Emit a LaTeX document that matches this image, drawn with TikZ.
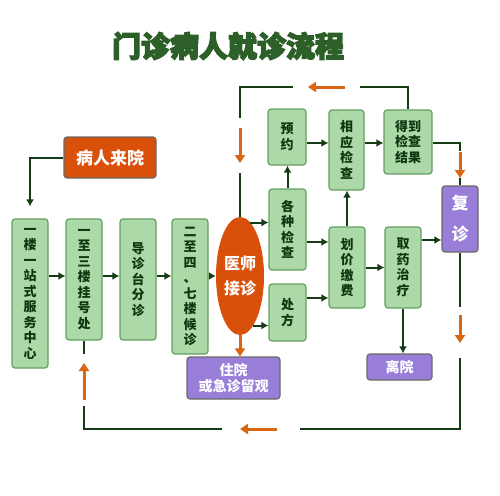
\documentclass[tikz,border=0pt]{standalone}
\usepackage{fontspec}
\newfontfamily\cjk{Noto Sans CJK SC}
\usetikzlibrary{arrows.meta,shapes.geometric}
\definecolor{gfill}{RGB}{172,217,168}
\definecolor{gdraw}{RGB}{100,160,100}
\definecolor{gtext}{RGB}{15,55,15}
\definecolor{ofill}{RGB}{217,80,10}
\definecolor{pfill}{RGB}{152,126,216}
\definecolor{bdraw}{RGB}{105,105,105}
\definecolor{lcol}{RGB}{22,60,22}
\definecolor{acol}{RGB}{216,102,18}
\definecolor{tcol}{RGB}{45,95,40}
\newcommand{\fakebold}[1]{\special{pdf:literal direct 2 Tr 1.2 w}#1\special{pdf:literal direct 0 Tr}}
\tikzset{
  gbox/.style={draw=gdraw, fill=gfill, line width=1.2pt, rounded corners=3pt, text=gtext,
    font=\cjk\bfseries\fontsize{13}{15.5}\selectfont, align=center, inner sep=0pt},
  obox/.style={draw=bdraw, fill=ofill, line width=1.2pt, rounded corners=3pt, text=white,
    font=\cjk\bfseries\fontsize{17}{20}\selectfont, align=center, inner sep=0pt},
  pbox/.style={draw=bdraw, fill=pfill, line width=1.2pt, rounded corners=3pt, text=white,
    font=\cjk\bfseries\fontsize{14}{16}\selectfont, align=center, inner sep=0pt},
  arr/.style={draw=lcol, line width=2pt, -{Latex[length=7pt,width=8pt]}},
  loopline/.style={draw=lcol, line width=2.2pt},
  oarr/.style={draw=acol, line width=3pt, -{Triangle[length=8pt,width=10pt]}},
  ttl/.style={font=\cjk\bfseries\fontsize{29}{32}\selectfont}
}
\begin{document}
\begin{tikzpicture}[x=1pt,y=-1pt]
\useasboundingbox (0,0) rectangle (500,495);
% title
\node[ttl, text=tcol] (title) at (228,46) {\fakebold{门诊病人就诊流程}};

% nodes
\node[obox, minimum width=92pt, minimum height=41pt] (laiyuan) at (110,157.5) {病人来院};
\node[gbox, minimum width=36pt, minimum height=149pt] (b1) at (30,293.5) {一\\楼\\一\\站\\式\\服\\务\\中\\心};
\node[gbox, minimum width=36pt, minimum height=121pt] (b2) at (84,279.5) {一\\至\\三\\楼\\挂\\号\\处};
\node[gbox, minimum width=36pt, minimum height=121pt] (b3) at (138,279.5) {导\\诊\\台\\分\\诊};
\node[gbox, minimum width=36pt, minimum height=135pt] (b4) at (190,286.5) {二\\至\\四\\、\\七\\楼\\候\\诊};
\node[ellipse, fill=ofill, minimum width=48pt, minimum height=118pt, inner sep=0pt, text=white,
  font=\cjk\bfseries\fontsize{16}{25}\selectfont, align=center] (ell) at (240,276) {医师\\接诊};
\node[gbox, minimum width=38pt, minimum height=56pt] (yuyue) at (287,137) {预\\约};
\node[gbox, minimum width=35pt, minimum height=80pt] (xiangying) at (346.5,150) {相\\应\\检\\查};
\node[gbox, minimum width=48pt, minimum height=64pt] (dedao) at (408,142) {得到\\检查\\结果};
\node[gbox, minimum width=37pt, minimum height=81pt] (gezhong) at (287.5,229.5) {各\\种\\检\\查};
\node[gbox, minimum width=37pt, minimum height=57pt] (chufang) at (287.5,312.5) {处\\方};
\node[gbox, minimum width=36pt, minimum height=81pt] (huajia) at (347,267.5) {划\\价\\缴\\费};
\node[gbox, minimum width=36pt, minimum height=81pt] (quyao) at (403,267.5) {取\\药\\治\\疗};
\node[pbox, minimum width=36pt, minimum height=66pt, font=\cjk\bfseries\fontsize{17}{31}\selectfont] (fuzhen) at (460,219) {复\\诊};
\node[pbox, minimum width=65pt, minimum height=26pt] (liyuan) at (399.5,367) {离院};
\node[pbox, minimum width=93pt, minimum height=42pt] (zhuyuan) at (233.5,378) {住院\\或急诊留观};

% main arrows
\draw[arr, shorten >=12pt] (laiyuan.west) -| (b1.north);
\draw[arr] (b1.east |- ell) -- (b2.west |- ell);
\draw[arr] (b2.east |- ell) -- (b3.west |- ell);
\draw[arr] (b3.east |- ell) -- (b4.west |- ell);
\draw[arr] (b4.east |- ell) -- (ell.west);
\draw[arr] (ell.79) -- (ell.79 -| gezhong.west);
\draw[arr] (ell.-75) -- (ell.-75 -| chufang.west);
\draw[arr] (gezhong.north) -- (gezhong.north |- yuyue.south);
\path ([yshift=-12.5pt]gezhong.east) coordinate (g1);
\draw[arr] (g1) -- (g1 -| huajia.west);
\path ([yshift=14.5pt]chufang.east) coordinate (c1);
\draw[arr] (c1) -- (c1 -| huajia.west);
\draw[arr] (huajia.north) -- (huajia.north |- xiangying.south);
\draw[arr] (huajia.east) -- (quyao.west);
\path ([yshift=27.5pt]quyao.east) coordinate (q1);
\draw[arr] (q1) -- (q1 -| fuzhen.west);
\draw[arr] (quyao.south) -- (quyao.south |- liyuan.north);
\path ([yshift=-6pt]yuyue.east) coordinate (y1);
\draw[arr] (y1) -- (y1 -| xiangying.west);
\draw[arr] (y1 -| xiangying.east) -- (y1 -| dedao.west);
\draw[oarr] (ell.south) -- (ell.south |- zhuyuan.north);

% top loop
\coordinate (tA) at (360,87);
\coordinate (tB) at (293,87);
\coordinate (tC) at (240,118);
\coordinate (tD) at (240,173);
\draw[loopline] (dedao.north) |- (tA);
\draw[loopline] (tB) -| (tC);
\draw[loopline] (tD) -- (ell.north);
\draw[oarr] (345,87) -- (308,87);
\draw[oarr] (240,128) -- (240,163);

% right link to fuzhen
\coordinate (rA) at (460,151);
\coordinate (rB) at (460,178);
\draw[loopline] (y1 -| dedao.east) -| (rA);
\draw[oarr] (460,152) -- (rB);
\draw[loopline] (rB) -- (fuzhen.north);

% bottom loop
\coordinate (bA) at (460,307);
\coordinate (bB) at (460,358);
\coordinate (bC) at (300,429);
\coordinate (bD) at (222,429);
\coordinate (bE) at (84,406);
\coordinate (bF) at (84,354);
\draw[loopline] (fuzhen.south) -- (bA);
\draw[oarr] (460,315) -- (460,343);
\draw[loopline] (bB) |- (bC);
\draw[oarr] (277,429) -- (240,429);
\draw[loopline] (bD) -| (bE);
\draw[oarr] (84,400) -- (84,363);
\draw[loopline] (bF) -- (b2.south);
\end{tikzpicture}
\end{document}
